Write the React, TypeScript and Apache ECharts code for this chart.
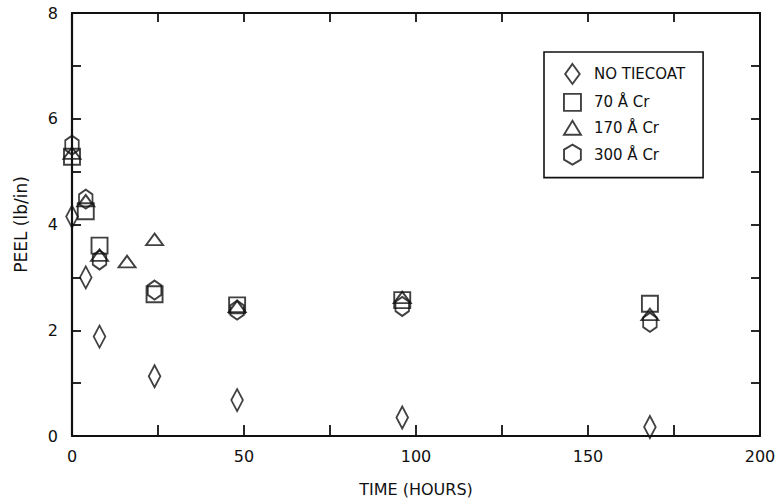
import React, { useEffect, useRef } from "react";
import * as echarts from "echarts";

const hoursMain = [0, 4, 8, 24, 48, 96, 168];
const hours170 = [0, 4, 8, 16, 24, 48, 96, 168];
const noTiecoat = [4.15, 3.0, 1.88, 1.13, 0.68, 0.35, 0.17];
const cr70 = [5.28, 4.25, 3.6, 2.68, 2.47, 2.57, 2.5];
const cr170 = [5.35, 4.45, 3.42, 3.3, 3.72, 2.45, 2.62, 2.3];
const cr300 = [5.5, 4.48, 3.33, 2.76, 2.38, 2.45, 2.15];
const seriesNames = ["NO TIECOAT", "70 Å Cr", "170 Å Cr", "300 Å Cr"];
const xTicks = [0, 50, 100, 150, 200];
const yTicks = [0, 2, 4, 6, 8];

const SYM_DIAMOND = "path://M8,0L16,11L8,22L0,11Z";
const SYM_SQUARE = "path://M0,0L16,0L16,16L0,16Z";
const SYM_TRIANGLE = "path://M8.5,0L17,14L0,14Z";
const SYM_HEXAGON = "path://M8,0L16,4.75L16,14.25L8,19L0,14.25L0,4.75Z";

const FONT = "DejaVu Sans";
const INK = "#111";

function pairs(xs: number[], ys: number[]) {
  return xs.map((x, i) => [x, ys[i]]);
}

export default function App() {
  const ref = useRef<HTMLDivElement>(null);
  useEffect(() => {
    if (!ref.current) return;
    const chart = echarts.init(ref.current, undefined, { renderer: "svg" });
    const markerStyle = {
      color: "rgba(0,0,0,0)",
      borderColor: INK,
      borderWidth: 1.9,
    };
    const mk = (name: string, symbol: string, size: number[], data: number[][]) => ({
      type: "scatter",
      name,
      symbol,
      symbolSize: size,
      symbolKeepAspect: true,
      itemStyle: markerStyle,
      emphasis: { disabled: true },
      data,
    });
    chart.setOption({
      animation: false,
      backgroundColor: "#fff",
      textStyle: { fontFamily: FONT, color: INK },
      grid: { left: 72, right: 20, top: 13, bottom: 63, containLabel: false },
      legend: {
        orient: "vertical",
        left: 544,
        top: 52,
        data: seriesNames,
        padding: [11, 18, 12, 19],
        itemGap: 8,
        itemWidth: 17,
        itemHeight: 20,
        borderColor: INK,
        borderWidth: 1.6,
        selectedMode: false,
        itemStyle: markerStyle,
        textStyle: { fontFamily: FONT, fontSize: 15, color: INK, padding: [0, 0, 0, 8] },
      },
      xAxis: [
        {
          type: "value",
          min: 0,
          max: 200,
          interval: 25,
          position: "bottom",
          name: "TIME (HOURS)",
          nameLocation: "middle",
          nameGap: 45,
          nameTextStyle: { fontFamily: FONT, fontSize: 16, color: INK },
          axisLine: { show: true, onZero: false, lineStyle: { color: INK, width: 2.2 } },
          axisTick: { show: true, inside: true, length: 11, lineStyle: { color: INK, width: 1.8 } },
          axisLabel: {
            margin: 12,
            fontFamily: FONT,
            fontSize: 16,
            color: INK,
            formatter: (v: number) => (xTicks.includes(v) ? String(v) : ""),
          },
          splitLine: { show: false },
        },
        {
          type: "value",
          min: 0,
          max: 200,
          interval: 25,
          position: "top",
          axisLine: { show: true, onZero: false, lineStyle: { color: INK, width: 2 } },
          axisTick: { show: true, inside: true, length: 9, lineStyle: { color: INK, width: 1.8 } },
          axisLabel: { show: false },
          splitLine: { show: false },
        },
      ],
      yAxis: [
        {
          type: "value",
          min: 0,
          max: 8,
          interval: 1,
          position: "left",
          name: "PEEL (lb/in)",
          nameLocation: "middle",
          nameGap: 43,
          nameTextStyle: { fontFamily: FONT, fontSize: 17, color: INK },
          axisLine: { show: true, onZero: false, lineStyle: { color: INK, width: 2.2 } },
          axisTick: { show: true, inside: true, length: 9, lineStyle: { color: INK, width: 1.8 } },
          axisLabel: {
            margin: 14,
            fontFamily: FONT,
            fontSize: 16,
            color: INK,
            formatter: (v: number) => (yTicks.includes(v) ? String(v) : ""),
          },
          splitLine: { show: false },
        },
        {
          type: "value",
          min: 0,
          max: 8,
          interval: 1,
          position: "right",
          axisLine: { show: true, onZero: false, lineStyle: { color: INK, width: 2 } },
          axisTick: { show: true, inside: true, length: 9, lineStyle: { color: INK, width: 1.8 } },
          axisLabel: { show: false },
          splitLine: { show: false },
        },
      ],
      series: [
        mk(seriesNames[0], SYM_DIAMOND, [16, 22], pairs(hoursMain, noTiecoat)),
        mk(seriesNames[1], SYM_SQUARE, [16, 16], pairs(hoursMain, cr70)),
        mk(seriesNames[2], SYM_TRIANGLE, [17, 14], pairs(hours170, cr170)),
        mk(seriesNames[3], SYM_HEXAGON, [16, 19], pairs(hoursMain, cr300)),
      ],
    });
    return () => chart.dispose();
  }, []);
  return (
    <div
      ref={ref}
      style={{ position: "fixed", left: 0, top: 0, width: 780, height: 502, background: "#fff" }}
    />
  );
}
